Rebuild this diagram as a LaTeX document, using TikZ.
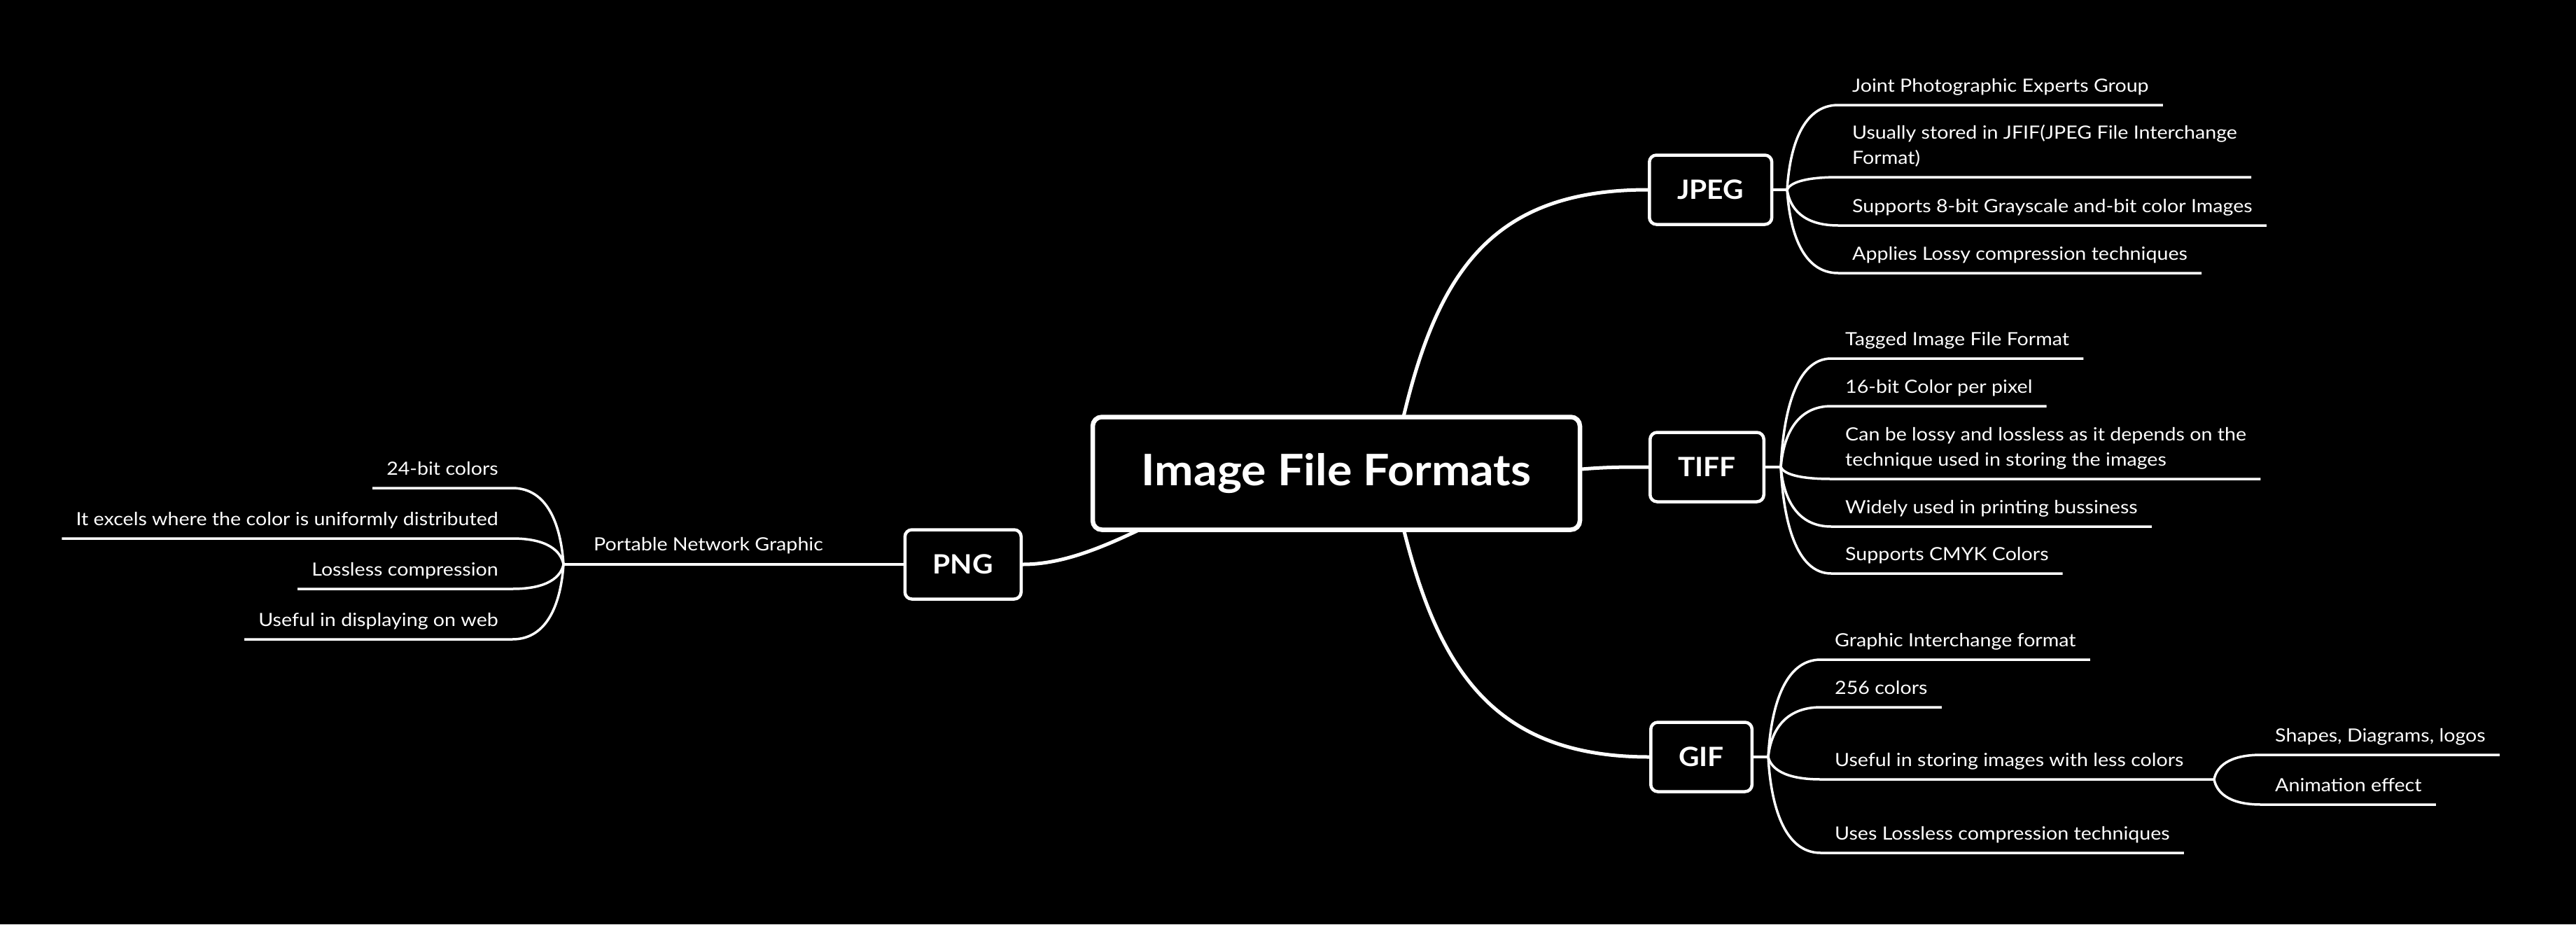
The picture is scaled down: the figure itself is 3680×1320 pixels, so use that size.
\documentclass[tikz,border=0pt]{standalone}
\usepackage{fontspec}
\setmainfont{Lato}
\newfontfamily\leaffam{Lato}[FakeStretch=1.1]
\newfontfamily\titlefam{Lato}[FakeStretch=1.07]
\usetikzlibrary{calc}
\pgfdeclarelayer{bglayer}
\pgfdeclarelayer{edgelayer}
\pgfsetlayers{bglayer,edgelayer,main}
\newcommand\leaffont{\leaffam\fontsize{26pt}{36pt}\selectfont}
\newcommand\topicfont{\titlefam\fontsize{38pt}{44pt}\selectfont\bfseries}
\newcommand\centralfont{\titlefam\fontsize{62pt}{70pt}\selectfont\bfseries}
\tikzset{
  leafline/.style={draw=white, line width=3.5pt},
  mainline/.style={draw=white, line width=5pt},
  rleaf/.style={anchor=south west, text=white, inner xsep=20pt, inner ysep=0pt, text depth=18pt, align=left, font=\leaffont},
  lleaf/.style={anchor=south east, text=white, inner xsep=20pt, inner ysep=0pt, text depth=18pt, align=right, font=\leaffont},
  topic/.style={draw=white, fill=black, line width=4.5pt, rounded corners=10pt, minimum height=99pt, inner xsep=40pt, text=white, font=\topicfont},
  central/.style={draw=white, fill=black, line width=6.5pt, rounded corners=13pt, minimum width=696pt, minimum height=161pt, text=white, font=\centralfont},
  bcurve/.style={to path={let \p1=(\tikztostart), \p2=(\tikztotarget) in .. controls ({\x1+0.05*(\x2-\x1)},{\y1+0.5*(\y2-\y1)}) and ({\x1+0.3*(\x2-\x1)},{\y2}) .. (\tikztotarget)}},
}
\begin{document}
\begin{tikzpicture}[x=1pt,y=-1pt]
\begin{pgfonlayer}{bglayer}
\fill[black] (0,0) rectangle (3680,1320);
\end{pgfonlayer}
\useasboundingbox (0,0) rectangle (3680,1320);

% central and main topics
\node[central] (main) at (1909,676) {Image File Formats};
\node[topic, anchor=west] (jpeg) at (2354,271) {JPEG};
\node[topic, anchor=west] (tiff) at (2355,667) {TIFF};
\node[topic, anchor=west] (gif) at (2356,1081) {GIF};
\node[topic, anchor=east] (png) at (1461,806) {PNG};

\begin{pgfonlayer}{edgelayer}
\draw[mainline] (1995,640) .. controls (2045,400) and (2120,271) .. (jpeg.west);
\draw[mainline] (2200,676) .. controls (2280,667) and (2300,667) .. (tiff.west);
\draw[mainline] (1995,712) .. controls (2045,940) and (2120,1081) .. (gif.west);
\draw[mainline] (1668,737) .. controls (1600,770) and (1530,806) .. (png.east);
\end{pgfonlayer}

% branch points
\coordinate (jb) at (2553,271);
\coordinate (tb) at (2544,667);
\coordinate (gb) at (2526,1081);
\coordinate (gb2) at (3163,1113);
\coordinate (pb) at (805,806);

\draw[leafline] (jpeg.east) -- (jb);
\draw[leafline] (tiff.east) -- (tb);
\draw[leafline] (gif.east) -- (gb);

% JPEG leaves
\node[rleaf] (j1) at (2626,150) {Joint Photographic Experts Group};
\node[rleaf] (j2) at (2626,253) {Usually stored in JFIF(JPEG File Interchange\\Format)};
\node[rleaf] (j3) at (2626,322) {Supports 8-bit Grayscale and-bit color Images};
\node[rleaf] (j4) at (2626,390) {Applies Lossy compression techniques};
\foreach \nm in {j1,j2,j3,j4}
  \draw[leafline] (jb) to[bcurve] (\nm.south west) -- (\nm.south east);

% TIFF leaves
\node[rleaf] (t1) at (2616,512) {Tagged Image File Format};
\node[rleaf] (t2) at (2616,580) {16-bit Color per pixel};
\node[rleaf] (t3) at (2616,684) {Can be lossy and lossless as it depends on the\\technique used in storing the images};
\node[rleaf] (t4) at (2616,752) {Widely used in printing bussiness};
\node[rleaf] (t5) at (2616,819) {Supports CMYK Colors};
\foreach \nm in {t1,t2,t3,t4,t5}
  \draw[leafline] (tb) to[bcurve] (\nm.south west) -- (\nm.south east);

% GIF leaves
\node[rleaf] (g1) at (2601,942) {Graphic Interchange format};
\node[rleaf] (g2) at (2601,1010) {256 colors};
\node[rleaf] (g3) at (2601,1113) {Useful in storing images with less colors};
\node[rleaf] (g4) at (2601,1218) {Uses Lossless compression techniques};
\foreach \nm in {g1,g2,g4}
  \draw[leafline] (gb) to[bcurve] (\nm.south west) -- (\nm.south east);
\draw[leafline] (gb) to[bcurve] (g3.south west) -- (gb2);
\node[rleaf] (g5) at (3230,1078) {Shapes, Diagrams, logos};
\node[rleaf] (g6) at (3230,1149) {Animation effect};
\foreach \nm in {g5,g6}
  \draw[leafline] (gb2) to[bcurve] (\nm.south west) -- (\nm.south east);

% PNG
\node[text=white, font=\leaffont, anchor=base west, inner sep=0pt] (pnl) at (848,786) {Portable Network Graphic};
\draw[leafline] (png.west) -- (pb);
\node[lleaf] (p1) at (732,697) {24-bit colors};
\node[lleaf] (p2) at (732,769) {It excels where the color is uniformly distributed};
\node[lleaf] (p3) at (732,841) {Lossless compression};
\node[lleaf] (p4) at (732,913) {Useful in displaying on web};
\foreach \nm in {p1,p2,p3,p4}
  \draw[leafline] (pb) to[bcurve] (\nm.south east) -- (\nm.south west);
\end{tikzpicture}
\end{document}
